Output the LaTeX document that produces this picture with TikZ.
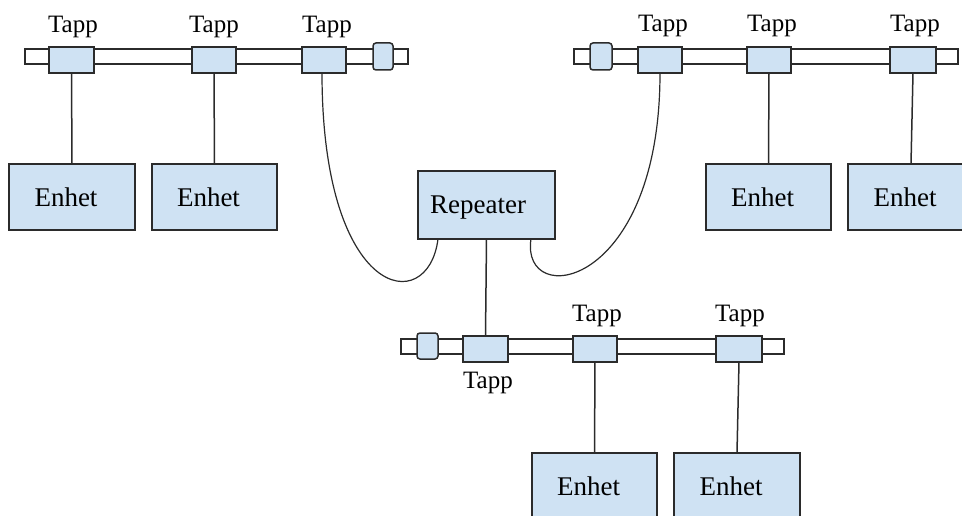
\documentclass[tikz,border=0pt]{standalone}
\usepackage{fontspec}
\setmainfont{Liberation Serif}
\definecolor{boxblue}{HTML}{CFE2F3}
\definecolor{linegray}{HTML}{2B2B2B}
\tikzset{
 box/.style={draw=linegray, fill=boxblue, line width=1.5pt, inner sep=0pt, outer sep=0pt, anchor=north west, font=\fontsize{27}{30}\selectfont, text depth=0pt},
 tapbox/.style={draw=linegray, fill=boxblue, line width=1.5pt, inner sep=0pt, outer sep=0pt, anchor=north west, minimum width=45pt, minimum height=26pt},
 termbox/.style={draw=linegray, fill=boxblue, line width=1.5pt, rounded corners=3pt, inner sep=0pt, outer sep=0pt, anchor=north west, minimum width=21pt, minimum height=27pt},
 busbar/.style={draw=linegray, fill=white, line width=1.5pt, inner sep=0pt, outer sep=0pt, anchor=north west, minimum height=15pt},
 taplabel/.style={font=\fontsize{25}{28}\selectfont, anchor=base, inner sep=0pt},
 wire/.style={draw=linegray, line width=1.5pt},
 cable/.style={draw=linegray, line width=1.2pt},
}
\begin{document}
\begin{tikzpicture}[x=1pt,y=-1pt]
\useasboundingbox (0,0) rectangle (962,516);
\clip (0,0) rectangle (962,516);
% buses
\node[busbar, minimum width=383pt] (bus1) at (25,49) {};
\node[busbar, minimum width=384pt] (bus2) at (574,49) {};
\node[busbar, minimum width=383pt] (bus3) at (401,339) {};
% terminators
\node[termbox, minimum width=20pt] (term1) at (373,43) {};
\node[termbox, minimum width=22pt] (term2) at (590,43) {};
\node[termbox, minimum height=26pt] (term3) at (417,333) {};
% taps
\node[tapbox] (t1) at (49,47) {};
\node[tapbox, minimum width=44pt] (t2) at (192,47) {};
\node[tapbox, minimum width=44pt] (t3) at (302,47) {};
\node[tapbox, minimum width=44pt] (t4) at (638,47) {};
\node[tapbox, minimum width=44pt] (t5) at (747,47) {};
\node[tapbox, minimum width=46pt] (t6) at (890,47) {};
\node[tapbox] (t7) at (463,336) {};
\node[tapbox, minimum width=44pt] (t8) at (573,336) {};
\node[tapbox, minimum width=46pt] (t9) at (716,336) {};
% tap labels
\node[taplabel] (l1) at (73,33) {Tapp};
\node[taplabel] (l2) at (214,33) {Tapp};
\node[taplabel] (l3) at (327,33) {Tapp};
\node[taplabel] (l4) at (663,32) {Tapp};
\node[taplabel] (l5) at (772,32) {Tapp};
\node[taplabel] (l6) at (915,32) {Tapp};
\node[taplabel] (l7) at (488,388) {Tapp};
\node[taplabel] (l8) at (597,321) {Tapp};
\node[taplabel] (l9) at (740,321) {Tapp};
% devices
\node[box, minimum width=126pt, minimum height=66pt] (e1) at (9,164) {Enhet\hspace*{12pt}};
\node[box, minimum width=125pt, minimum height=66pt] (e2) at (152,164) {Enhet\hspace*{12pt}};
\node[box, minimum width=125pt, minimum height=66pt] (e3) at (706,164) {Enhet\hspace*{12pt}};
\node[box, minimum width=126pt, minimum height=66pt] (e4) at (848,164) {Enhet\hspace*{12pt}};
\node[box, minimum width=125pt, minimum height=66pt] (e5) at (532,453) {Enhet\hspace*{12pt}};
\node[box, minimum width=126pt, minimum height=66pt] (e6) at (674,453) {Enhet\hspace*{12pt}};
\node[box, minimum width=137pt, minimum height=68pt] (rep) at (418,171) {Repeater\hspace*{17pt}};
% connectors
\draw[wire] (t1.south) -- (e1.north);
\draw[wire] (t2.south) -- (e2.north);
\draw[wire] (t5.south) -- (e3.north);
\draw[wire] (t6.south) -- (e4.north);
\draw[wire] (t8.south) -- (e5.north);
\draw[wire] (t9.south) -- (e6.north);
\draw[wire] (rep.south) -- (t7.north);
\draw[cable] ([xshift=-2pt]t3.south) .. controls (322,300) and (428,318) .. ([xshift=20pt]rep.south west);
\draw[cable] (t4.south) .. controls (660,290) and (520,310) .. ([xshift=-24pt]rep.south east);
\end{tikzpicture}
\end{document}
